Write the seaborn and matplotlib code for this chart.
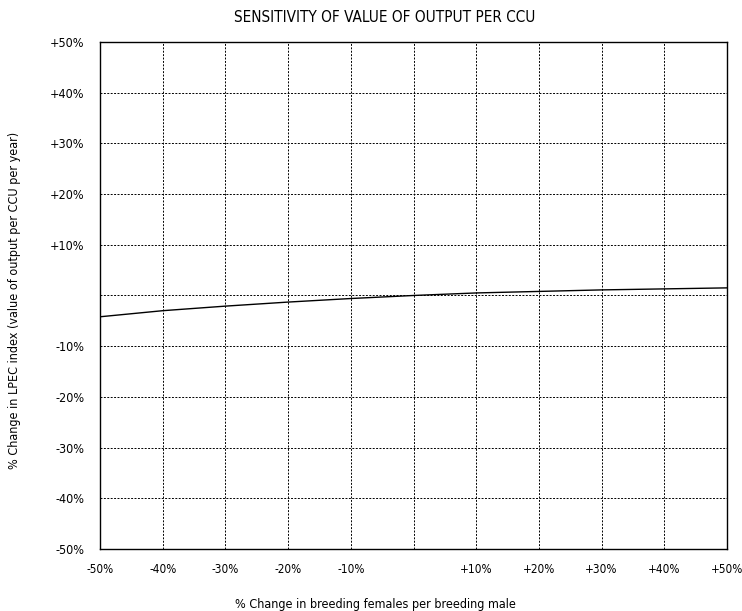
import matplotlib
matplotlib.use("Agg")
import matplotlib.pyplot as plt
import seaborn as sns
import pandas as pd

# Data
pct_change_females = [-50, -40, -30, -20, -10, 0, 10, 20, 30, 40, 50]
pct_change_index = [-4.2, -3.0, -2.1, -1.3, -0.6, 0.0, 0.5, 0.8, 1.1, 1.3, 1.5]
x_ticks = [-50, -40, -30, -20, -10, 10, 20, 30, 40, 50]
x_tick_labels = ["-50%", "-40%", "-30%", "-20%", "-10%", "+10%", "+20%", "+30%", "+40%", "+50%"]
y_ticks = [50, 40, 30, 20, 10, -10, -20, -30, -40, -50]
y_tick_labels = ["+50%", "+40%", "+30%", "+20%", "+10%", "-10%", "-20%", "-30%", "-40%", "-50%"]

sns.set_theme(style="white")
plt.rcParams['font.family'] = ['DejaVu Sans']
plt.rcParams['font.stretch'] = 'condensed'

df = pd.DataFrame({"x": pct_change_females, "y": pct_change_index})

fig = plt.figure(figsize=(7.42, 6.11), dpi=100)
ax = fig.add_axes([0.1348, 0.1015, 0.845, 0.8298])

sns.lineplot(data=df, x="x", y="y", ax=ax, color="black", linewidth=1.0)

ax.set_xlim(-50, 50)
ax.set_ylim(-50, 50)
for v in range(-40, 50, 10):
    ax.axvline(v, color="black", linestyle=(0, (2, 1.5)), linewidth=0.7, zorder=0)
    ax.axhline(v, color="black", linestyle=(0, (2, 1.5)), linewidth=0.7, zorder=0)

ax.set_xticks(x_ticks)
ax.set_xticklabels(x_tick_labels, fontsize=8.5, fontstretch='condensed')
ax.set_yticks(y_ticks)
ax.set_yticklabels(y_tick_labels, fontsize=9, fontstretch='condensed')
ax.tick_params(axis="x", length=0, pad=10, colors="black")
ax.tick_params(axis="y", length=0, pad=11, colors="black")

for s in ax.spines.values():
    s.set_color("black")
    s.set_linewidth(1.0)

ax.set_xlabel("% Change in breeding females per breeding male", fontsize=9, fontstretch='condensed', color="black")
ax.set_ylabel("% Change in LPEC index (value of output per CCU per year)", fontsize=9, fontstretch='condensed', color="black")
ax.xaxis.set_label_coords(375 / 742 / 0.845 - 0.1348 / 0.845, -(598 - 549) / (0.8298 * 611))
ax.yaxis.set_label_coords(-(100 - 21) / (0.845 * 742), 0.49)
fig.text(385 / 742, 1 - 18 / 611, "SENSITIVITY OF VALUE OF OUTPUT PER CCU", ha="center", va="center",
         fontsize=11, fontstretch='condensed', color="black")

fig.savefig("out.png", dpi=100)
